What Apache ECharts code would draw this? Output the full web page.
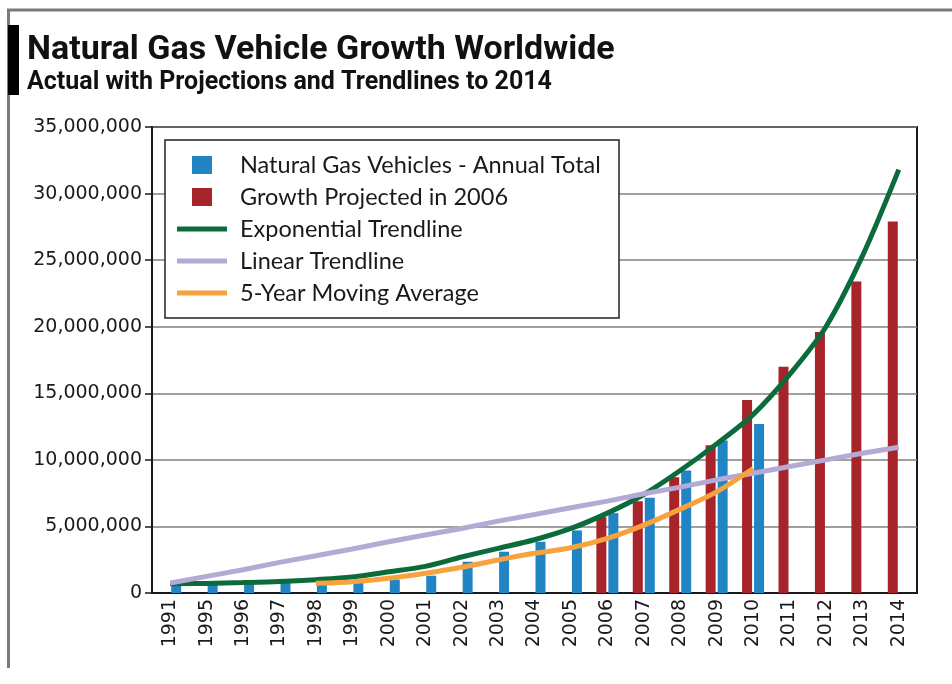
<!DOCTYPE html>
<html>
<head>
<meta charset="utf-8">
<script src="https://cdn.jsdelivr.net/npm/echarts@6/dist/echarts.min.js"></script>
<style>
  html, body { margin: 0; padding: 0; background: #fff; }
  #chart { width: 952px; height: 684px; }
</style>
</head>
<body>
<div id="chart"></div>
<script>
// Years on the category axis
const years = ['1991', '1995', '1996', '1997', '1998', '1999', '2000', '2001', '2002', '2003',
  '2004', '2005', '2006', '2007', '2008', '2009', '2010', '2011', '2012', '2013', '2014'];

// Natural gas vehicles in use worldwide, annual totals
const ngvTotal = [600000, 650000, 700000, 750000, 800000, 850000, 1000000, 1300000, 2350000, 3100000,
  3850000, 4700000, 6000000, 7150000, 9200000, 11450000, 12700000, null, null, null, null];

// Growth projected in 2006
const projected2006 = [null, null, null, null, null, null, null, null, null, null,
  null, null, 5700000, 6900000, 8700000, 11100000, 14500000, 17000000, 19600000, 23400000, 27900000];

// Exponential trendline
const expTrend = [700000, 720000, 780000, 860000, 1000000, 1200000, 1600000, 2000000, 2700000, 3350000,
  4000000, 4850000, 6000000, 7400000, 9200000, 11200000, 13400000, 16400000, 20000000, 25300000, 31800000];

// Linear trendline
const linTrend = [750000, 1250000, 1750000, 2300000, 2800000, 3300000, 3850000, 4350000, 4850000, 5400000,
  5900000, 6400000, 6900000, 7450000, 7950000, 8500000, 9000000, 9500000, 10000000, 10500000, 10950000];

// 5-year moving average
const movingAvg5 = [null, null, null, null, 730000, 850000, 1100000, 1480000, 1930000, 2480000,
  2980000, 3400000, 4100000, 5100000, 6300000, 7600000, 9350000, null, null, null, null];

// Value axis
const yMax = 35000000;
const yStep = 5000000;

const names = {
  ngv: 'Natural Gas Vehicles - Annual Total',
  proj: 'Growth Projected in 2006',
  exp: 'Exponential Trendline',
  lin: 'Linear Trendline',
  avg: '5-Year Moving Average'
};

const colors = {
  ngv: '#2185c5',
  proj: '#a8242b',
  exp: '#0b6b3b',
  lin: '#b5aad6',
  avg: '#f7a23c'
};

// Legend swatches: tiny corner specks fix the path box at 58x20
const squareIcon = 'path://M0,0L0.01,0.01L0,0.01Z M58,20L57.99,19.99L58,19.99Z M15,1h20v18h-20Z';
const lineIcon = 'path://M0,0L0.01,0.01L0,0.01Z M58,20L57.99,19.99L58,19.99Z M0,7.5h50v5h-50Z';

const chart = echarts.init(document.getElementById('chart'), null, { renderer: 'canvas' });

const uiFont = 'Lato, "Noto Sans", sans-serif';
const axisFont = '"DejaVu Sans", sans-serif';

chart.setOption({
  backgroundColor: '#ffffff',
  animation: false,
  title: {
    text: 'Natural Gas Vehicle Growth Worldwide',
    subtext: 'Actual with Projections and Trendlines to 2014',
    left: 22,
    top: 28,
    itemGap: 3,
    textStyle: { fontFamily: 'Roboto, sans-serif', fontWeight: 'bold', fontSize: 34, color: '#111' },
    subtextStyle: { fontFamily: 'Roboto, sans-serif', fontWeight: 'bold', fontSize: 25, color: '#111' }
  },
  graphic: [
    // page frame
    { type: 'polyline', z: 10, shape: { points: [[8.5, 668], [8.5, 10], [952, 10]] },
      style: { stroke: '#7a7a7a', lineWidth: 3, fill: null } },
    // accent bar beside the heading
    { type: 'rect', z: 11, shape: { x: 8, y: 25, width: 11, height: 70 }, style: { fill: '#000' } },
    // legend box
    { type: 'rect', z: 3, shape: { x: 165, y: 140, width: 454, height: 178 },
      style: { fill: '#fff', stroke: '#222', lineWidth: 1.5 } }
  ],
  legend: {
    orient: 'vertical',
    left: 165,
    top: 140,
    padding: [13, 12, 13, 12],
    itemGap: 8,
    itemWidth: 58,
    itemHeight: 20,
    z: 5,
    textStyle: { fontFamily: uiFont, fontSize: 23.5, lineHeight: 20, color: '#1a1a1a' },
    data: [
      { name: names.ngv, icon: squareIcon },
      { name: names.proj, icon: squareIcon },
      { name: names.exp, icon: lineIcon },
      { name: names.lin, icon: lineIcon },
      { name: names.avg, icon: lineIcon }
    ]
  },
  grid: {
    left: 152,
    right: 35,
    top: 127,
    bottom: 91,
    show: true,
    borderColor: '#1a1a1a',
    borderWidth: 2,
    backgroundColor: 'transparent'
  },
  xAxis: {
    type: 'category',
    data: years,
    boundaryGap: true,
    axisLine: { lineStyle: { color: '#1a1a1a', width: 2 } },
    axisTick: { show: false },
    axisLabel: {
      rotate: 90,
      margin: 6,
      interval: 0,
      fontFamily: axisFont,
      fontSize: 19,
      color: '#1a1a1a'
    }
  },
  yAxis: {
    type: 'value',
    min: 0,
    max: yMax,
    interval: yStep,
    axisLine: { show: true, lineStyle: { color: '#1a1a1a', width: 2 } },
    axisTick: { show: true, length: 7, lineStyle: { color: '#1a1a1a', width: 1.5 } },
    splitLine: { show: true, lineStyle: { color: '#808080', width: 1.5 } },
    axisLabel: {
      margin: 10,
      fontFamily: axisFont,
      fontSize: 19,
      color: '#1a1a1a',
      formatter: v => String(v).replace(/\B(?=(\d{3})+(?!\d))/g, ',')
    }
  },
  series: [
    {
      name: names.proj,
      type: 'bar',
      data: projected2006,
      barWidth: 10,
      barGap: '20%',
      itemStyle: { color: colors.proj }
    },
    {
      name: names.ngv,
      type: 'bar',
      data: ngvTotal,
      barWidth: 10,
      barGap: '20%',
      itemStyle: { color: colors.ngv }
    },
    {
      name: names.exp,
      type: 'line',
      data: expTrend,
      smooth: 0.3,
      showSymbol: false,
      color: colors.exp,
      lineStyle: { color: colors.exp, width: 5 }
    },
    {
      name: names.lin,
      type: 'line',
      data: linTrend,
      showSymbol: false,
      color: colors.lin,
      lineStyle: { color: colors.lin, width: 5 }
    },
    {
      name: names.avg,
      type: 'line',
      data: movingAvg5,
      smooth: 0.3,
      showSymbol: false,
      connectNulls: false,
      color: colors.avg,
      lineStyle: { color: colors.avg, width: 5 }
    }
  ]
});
</script>
</body>
</html>
